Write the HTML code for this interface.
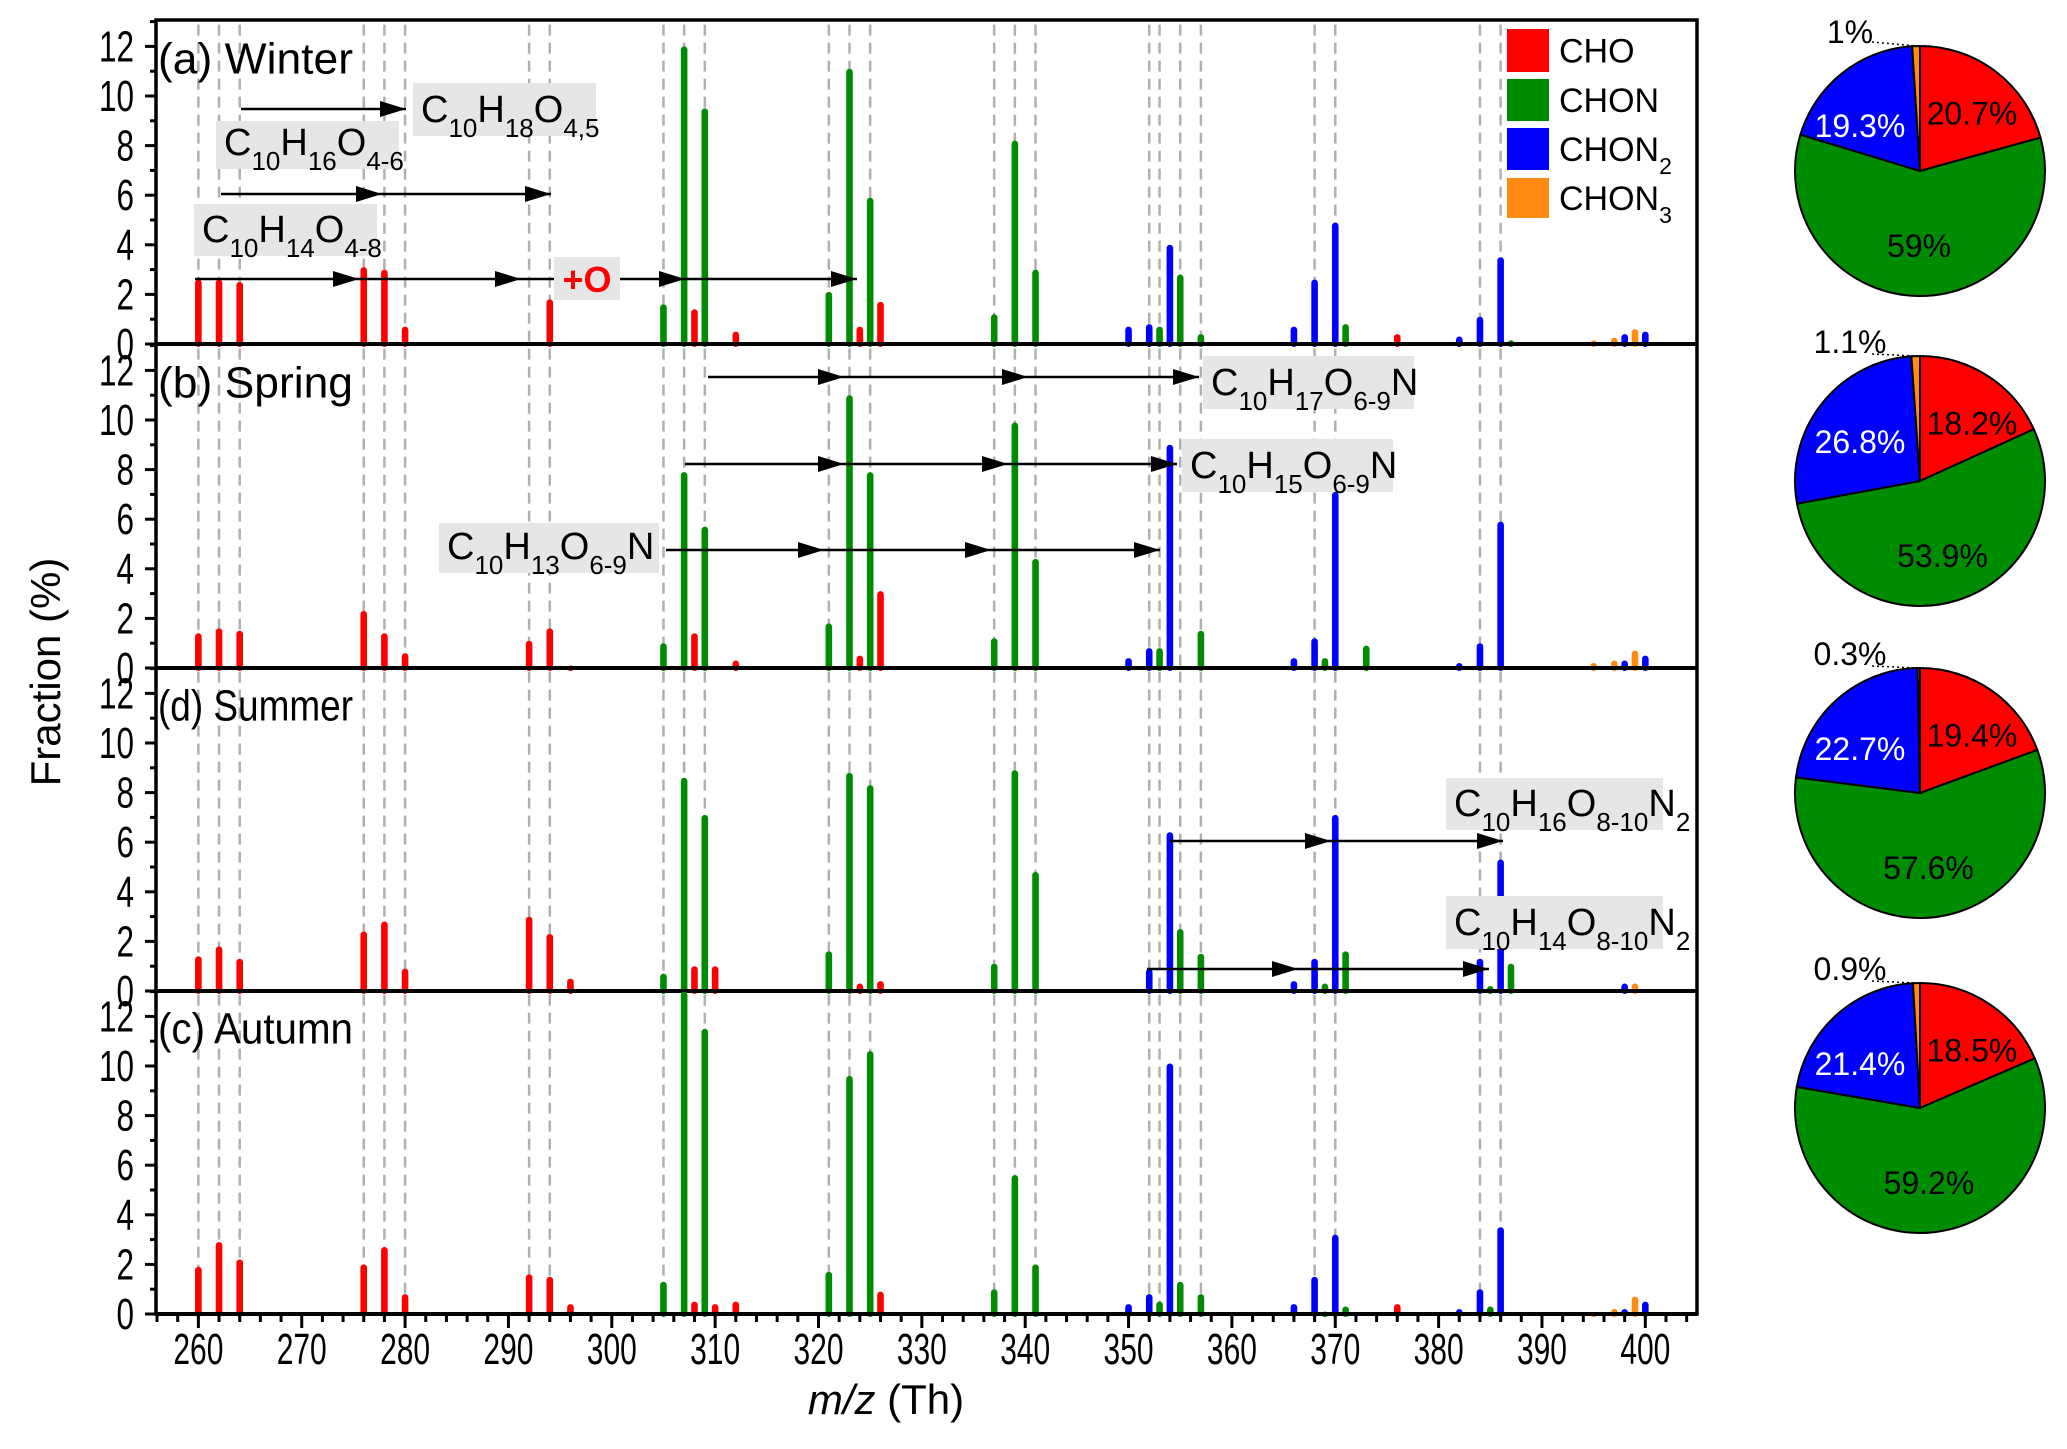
<!DOCTYPE html>
<html><head><meta charset="utf-8"><style>
html,body{margin:0;padding:0;background:#fff}
svg{display:block;font-family:"Liberation Sans",Arial,sans-serif}
</style></head><body>
<svg id="chart" width="2067" height="1449" viewBox="0 0 2067 1449" xmlns="http://www.w3.org/2000/svg"></svg>
<script>
// ---------- data ----------
const panelNames = ["(a) Winter","(b) Spring","(d) Summer","(c) Autumn"];
const groups = ["CHO","CHON","CHON2","CHON3"];
const groupColors = ["#ff0000","#008c00","#0000ff","#ff8a14"];
// bars: [m/z, group index, value]
const winterBars = [[260,0,2.6],[262,0,2.6],[264,0,2.5],[276,0,3.1],[278,0,3.0],[280,0,0.7],[294,0,1.8],
 [305,1,1.6],[307,1,12.0],[308,0,1.4],[309,1,9.5],[312,0,0.5],[321,1,2.1],[323,1,11.1],[324,0,0.7],[325,1,5.9],[326,0,1.7],
 [337,1,1.2],[339,1,8.2],[341,1,3.0],[350,2,0.7],[352,2,0.8],[353,1,0.7],[354,2,4.0],[355,1,2.8],[357,1,0.4],
 [366,2,0.7],[368,2,2.6],[370,2,4.9],[371,1,0.8],[376,0,0.4],[382,2,0.3],[384,2,1.1],[386,2,3.5],[387,1,0.15],
 [395,3,0.15],[397,3,0.25],[398,2,0.4],[399,3,0.6],[400,2,0.5]];
const springBars = [[260,0,1.4],[262,0,1.6],[264,0,1.5],[276,0,2.3],[278,0,1.4],[280,0,0.6],[292,0,1.1],[294,0,1.6],[296,0,0.1],
 [305,1,1.0],[307,1,7.9],[308,0,1.4],[309,1,5.7],[312,0,0.3],[321,1,1.8],[323,1,11.0],[324,0,0.5],[325,1,7.9],[326,0,3.1],
 [337,1,1.2],[339,1,9.9],[341,1,4.4],[350,2,0.4],[352,2,0.8],[353,1,0.8],[354,2,9.0],[357,1,1.5],
 [366,2,0.4],[368,2,1.2],[369,1,0.4],[370,2,7.1],[373,1,0.9],[382,2,0.2],[384,2,1.0],[386,2,5.9],
 [395,3,0.2],[397,3,0.3],[398,2,0.3],[399,3,0.7],[400,2,0.5]];
const summerBars = [[260,0,1.4],[262,0,1.8],[264,0,1.3],[276,0,2.4],[278,0,2.8],[280,0,0.9],[292,0,3.0],[294,0,2.3],[296,0,0.5],
 [305,1,0.7],[307,1,8.6],[308,0,1.0],[309,1,7.1],[310,0,1.0],[321,1,1.6],[323,1,8.8],[324,0,0.3],[325,1,8.3],[326,0,0.4],
 [337,1,1.1],[339,1,8.9],[341,1,4.8],[352,2,0.9],[354,2,6.4],[355,1,2.5],[357,1,1.5],
 [366,2,0.4],[368,2,1.3],[369,1,0.3],[370,2,7.1],[371,1,1.6],[384,2,1.3],[385,1,0.2],[386,2,5.3],[387,1,1.1],
 [398,2,0.3],[399,3,0.3]];
const autumnBars = [[260,0,1.9],[262,0,2.9],[264,0,2.2],[276,0,2.0],[278,0,2.7],[280,0,0.8],[292,0,1.6],[294,0,1.5],[296,0,0.4],
 [305,1,1.3],[307,1,13.0],[308,0,0.5],[309,1,11.5],[310,0,0.4],[312,0,0.5],[321,1,1.7],[323,1,9.6],[325,1,10.6],[326,0,0.9],
 [337,1,1.0],[339,1,5.6],[341,1,2.0],[350,2,0.4],[352,2,0.8],[353,1,0.5],[354,2,10.1],[355,1,1.3],[357,1,0.8],
 [366,2,0.4],[368,2,1.5],[369,1,0.1],[370,2,3.2],[371,1,0.3],[376,0,0.4],[382,2,0.2],[384,2,1.0],[385,1,0.3],[386,2,3.5],
 [395,3,0.05],[397,3,0.2],[398,2,0.2],[399,3,0.7],[400,2,0.5]];
const dashMz = [260,262,264,276,278,280,292,294,305,307,309,321,323,325,337,339,341,352,353,355,357,368,370,384,386];
const xTicks = [260,270,280,290,300,310,320,330,340,350,360,370,380,390,400];
const yTicks = [0,2,4,6,8,10,12];
const pieWinter = [20.7,59,19.3,1];
const pieSpring = [18.2,53.9,26.8,1.1];
const pieSummer = [19.4,57.6,22.7,0.3];
const pieAutumn = [18.5,59.2,21.4,0.9];
const pieLabels = [["20.7%","59%","19.3%","1%"],["18.2%","53.9%","26.8%","1.1%"],["19.4%","57.6%","22.7%","0.3%"],["18.5%","59.2%","21.4%","0.9%"]];

// ---------- layout ----------
const svg = document.getElementById('chart');
const NS = "http://www.w3.org/2000/svg";
const L = 156, R = 1697, TOP = 20;
const baselines = [344, 668, 991, 1314];
const xMin = 255.9, xMax = 405.0, yMax = 13.04, unit = 24.8;
const xs = m => L + (m - xMin) / (xMax - xMin) * (R - L);
const ys = (p, v) => baselines[p] - v * unit;
function mk(tag, attrs, parent) {
  const e = document.createElementNS(NS, tag);
  for (const k in attrs) e.setAttribute(k, attrs[k]);
  (parent || svg).appendChild(e);
  return e;
}
const allBars = [winterBars, springBars, summerBars, autumnBars];
const allPies = [pieWinter, pieSpring, pieSummer, pieAutumn];

for (let p = 0; p < 4; p++) {
  const g = mk('g', {});
  
  
  const top = baselines[p] - yMax * unit;
  dashMz.forEach(m => {
    const d = mk('line', {x1: xs(m), x2: xs(m), y1: top + 4, y2: baselines[p], stroke: '#b0b0b0', 'stroke-width': 2.5, 'stroke-dasharray': '11,7'}, g);
    
    
  });
  allBars[p].forEach(b => {
    const v = Math.min(b[2], yMax);
    const r = mk('rect', {x: xs(b[0]) - 3.3, y: ys(p, v), width: 6.6, height: v * unit + 3, rx: 3.3, fill: groupColors[b[1]]}, g);
    
    
  });
  for (let v = 0; v <= 13; v++) {
    const major = v % 2 === 0;
    mk('line', {x1: L - (major ? 11 : 6), x2: L, y1: ys(p, v), y2: ys(p, v), stroke: '#000', 'stroke-width': 3}, g);
  }
  yTicks.forEach(v => {
    const t = mk('text', {x: 134, y: ys(p, v) + 15, 'text-anchor': 'end', 'font-size': 44, textLength: v >= 10 ? 35 : 17.5, lengthAdjust: 'spacingAndGlyphs'}, g);
    t.textContent = v;
    
    
  });
  const pl = mk('text', {x: 158, y: top + 53, 'font-size': 44, textLength: panelNames[p].length * 19.5, lengthAdjust: 'spacingAndGlyphs'}, g);
  pl.textContent = panelNames[p];
  
  
  mk('line', {x1: L, x2: R, y1: baselines[p], y2: baselines[p], stroke: '#000', 'stroke-width': 4}, g);
}
const fr = mk('rect', {x: L, y: TOP, width: R - L, height: baselines[3] - TOP, fill: 'none', stroke: '#000', 'stroke-width': 3.5});


for (let m = 256; m <= 404; m += 2) {
  const major = m % 10 === 0;
  mk('line', {x1: xs(m), x2: xs(m), y1: baselines[3], y2: baselines[3] + (major ? 14 : 8), stroke: '#000', 'stroke-width': 3});
}
xTicks.forEach(m => {
  const t = mk('text', {x: xs(m), y: 1364, 'text-anchor': 'middle', 'font-size': 44, textLength: 50, lengthAdjust: 'spacingAndGlyphs'});
  t.textContent = m;
  
  
});
const xt = mk('text', {x: 886, y: 1414, 'text-anchor': 'middle', 'font-size': 42});
xt.innerHTML = '<tspan font-style="italic">m/z</tspan> (Th)';


const yt = mk('text', {x: 0, y: 0, 'text-anchor': 'middle', 'font-size': 42, transform: 'translate(60,672) rotate(-90)'});
yt.textContent = 'Fraction (%)';



const legRows = [[29,72],[79,121],[128,170],[178,218]];
const legText = ['CHO','CHON','CHON<tspan baseline-shift="sub" font-size="23">2</tspan>','CHON<tspan baseline-shift="sub" font-size="23">3</tspan>'];
legRows.forEach((r, i) => {
  const g = mk('g', {});
  
  
  mk('rect', {x: 1507, y: r[0], width: 42, height: r[1] - r[0], fill: groupColors[i]}, g);
  const t = mk('text', {x: 1559, y: (r[0] + r[1]) / 2 + 12, 'font-size': 34}, g);
  t.innerHTML = legText[i];
});

function box(x1, x2, y1, y2, parts, name) {
  const g = mk('g', {});
  
  
  mk('rect', {x: x1, y: y1, width: x2 - x1, height: y2 - y1, fill: '#e6e6e6'}, g);
  const t = mk('text', {x: x1 + 8, y: y2 - 14, 'font-size': 38}, g);
  t.innerHTML = parts;
  return g;
}
function arrow(y, x0, heads, name) {
  const g = mk('g', {});
  
  
  mk('line', {x1: x0, x2: heads[heads.length - 1], y1: y, y2: y, stroke: '#000', 'stroke-width': 2.5}, g);
  heads.forEach(h => mk('polygon', {points: `${h},${y} ${h - 26},${y - 8} ${h - 26},${y + 8}`, fill: '#000'}, g));
}
const sb = s => `<tspan baseline-shift="sub" font-size="26">${s}</tspan>`;
arrow(109, 241, [406], 'arrow-c10h18');
box(413, 596, 83, 136, 'C' + sb('10') + 'H' + sb('18') + 'O' + sb('4,5'), 'label-c10h18o');
box(216, 399, 121, 169, 'C' + sb('10') + 'H' + sb('16') + 'O' + sb('4-6'), 'label-c10h16o');
arrow(194, 221, [382, 551], 'arrow-c10h16');
box(194, 377, 204, 256, 'C' + sb('10') + 'H' + sb('14') + 'O' + sb('4-8'), 'label-c10h14o');
arrow(279, 195, [359, 521, 685, 857], 'arrow-c10h14');
const ob = mk('rect', {x: 554, y: 257, width: 66, height: 43, fill: '#e6e6e6'});


const ot = mk('text', {x: 587, y: 292, 'text-anchor': 'middle', 'font-size': 36, 'font-weight': 'bold', fill: '#ff0000'});
ot.textContent = '+O';


arrow(377, 708, [844, 1028, 1199], 'arrow-c10h17');
box(1203, 1414, 356, 409, 'C' + sb('10') + 'H' + sb('17') + 'O' + sb('6-9') + 'N', 'label-c10h17o-n');
arrow(464, 685, [844, 1008, 1177], 'arrow-c10h15');
box(1182, 1393, 439, 492, 'C' + sb('10') + 'H' + sb('15') + 'O' + sb('6-9') + 'N', 'label-c10h15o-n');
box(439, 659, 523, 573, 'C' + sb('10') + 'H' + sb('13') + 'O' + sb('6-9') + 'N', 'label-c10h13o-n');
arrow(550, 666, [824, 991, 1160], 'arrow-c10h13');
box(1446, 1663, 778, 830, 'C' + sb('10') + 'H' + sb('16') + 'O' + sb('8-10') + 'N' + sb('2'), 'label-c10h16o-n2');
arrow(841, 1170, [1331, 1503], 'arrow-c10h16n2');
box(1446, 1663, 896, 949, 'C' + sb('10') + 'H' + sb('14') + 'O' + sb('8-10') + 'N' + sb('2'), 'label-c10h14o-n2');
arrow(969, 1147, [1298, 1489], 'arrow-c10h14n2');

// pies
const pieCy = [171, 481, 793, 1108], pieCx = 1920, pr = 125;
const labelFill = ['#000', '#000', '#fff', '#000'];
allPies.forEach((vals, p) => {
  const g = mk('g', {});
  
  
  const cy = pieCy[p];
  const tot = vals.reduce((a, b) => a + b, 0);
  let a0 = 0;
  vals.forEach((v, i) => {
    const a1 = a0 + v / tot * 2 * Math.PI;
    const x0 = pieCx + pr * Math.sin(a0), y0 = cy - pr * Math.cos(a0);
    const x1 = pieCx + pr * Math.sin(a1), y1 = cy - pr * Math.cos(a1);
    const large = (a1 - a0) > Math.PI ? 1 : 0;
    const s = mk('path', {d: `M${pieCx},${cy} L${x0},${y0} A${pr},${pr} 0 ${large} 1 ${x1},${y1} Z`, fill: groupColors[i], stroke: '#000', 'stroke-width': 2}, g);
    
    
    const am = (a0 + a1) / 2;
    if (i < 3) {
      let lx, ly;
      if (i === 0) { lx = pieCx + 52; ly = cy - 30 - 8 * Math.cos(am) - 10; }
      else if (i === 2) { lx = pieCx - 60; ly = cy + 60 * -Math.cos(am) * 0.6 - 6; }
      else { lx = pieCx + 75 * Math.sin(am); ly = cy + 86; }
      const t = mk('text', {x: lx, y: ly, 'text-anchor': 'middle', 'font-size': 32, fill: labelFill[i]}, g);
      t.textContent = pieLabels[p][i];
    } else {
      const t = mk('text', {x: pieCx - 70, y: cy - 128, 'text-anchor': 'middle', 'font-size': 32}, g);
      t.textContent = pieLabels[p][i];
      mk('line', {x1: pieCx - 48, y1: cy - 137 + (p === 0 ? 8 : 10), x2: pieCx - 4, y2: cy - pr, stroke: '#000', 'stroke-width': 1.5, 'stroke-dasharray': '2,3'}, g);
    }
    a0 = a1;
  });
});
</script>
</body></html>
